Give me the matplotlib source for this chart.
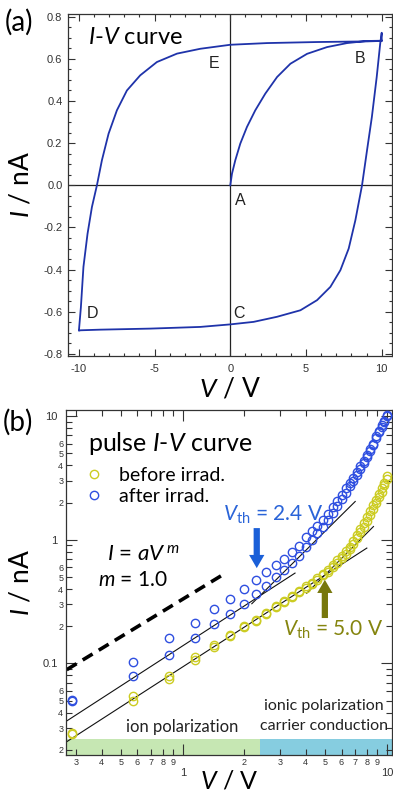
import matplotlib
matplotlib.use('Agg')
import matplotlib.pyplot as plt
from matplotlib.ticker import FixedLocator, FixedFormatter
from matplotlib.lines import Line2D

plt.rcParams['mathtext.fontset'] = 'custom'
plt.rcParams['mathtext.rm'] = 'Lato'
plt.rcParams['mathtext.it'] = 'Lato:italic'
plt.rcParams['font.family'] = ['Lato', 'DejaVu Sans']

# ---- (a) I-V loop ----
v_rise = [0.0, 0.11, 0.33, 0.66, 1.1, 1.65, 2.31, 3.09, 3.97, 5.07, 6.39, 7.71, 9.03, 9.9]
i_rise = [0.0, 0.055, 0.119, 0.198, 0.277, 0.356, 0.435, 0.514, 0.577, 0.624, 0.656, 0.675, 0.685, 0.686]
v_down = [10.0, 10.0, 9.9, 9.67, 9.35, 9.03, 8.7, 8.26, 7.82, 7.27, 6.61, 5.73, 4.63, 3.08, 1.54,
          0.0, -1.98, -5.29, -8.59, -9.9, -10.0]
i_down = [0.686, 0.724, 0.672, 0.514, 0.324, 0.166, 0.0, -0.166, -0.3, -0.403, -0.482, -0.545,
          -0.593, -0.624, -0.648, -0.66, -0.672, -0.68, -0.685, -0.688, -0.69]
v_up = [-10.0, -9.87, -9.7, -9.43, -9.14, -8.81, -8.48, -8.04, -7.49, -6.83, -5.95, -4.85, -3.52,
        -1.98, 0.0, 2.42, 5.73, 9.03, 9.9, 10.0]
i_up = [-0.69, -0.58, -0.387, -0.23, -0.103, 0.0, 0.119, 0.245, 0.356, 0.45, 0.522, 0.585, 0.625,
        0.648, 0.667, 0.675, 0.68, 0.683, 0.685, 0.686]

# ---- (b) pulse I-V, log-log ----
volts = [0.286, 0.571, 0.857, 1.143, 1.429, 1.714, 2.0, 2.286, 2.571, 2.857, 3.143, 3.429,
         3.714, 4.0, 4.286, 4.571, 4.857, 5.143, 5.429, 5.714, 6.0, 6.286, 6.571, 6.857,
         7.143, 7.429, 7.714, 8.0, 8.286, 8.571, 8.857, 9.143, 9.429, 9.714, 10.0]
after_hi = [0.051, 0.103, 0.160, 0.212, 0.275, 0.331, 0.399, 0.475, 0.544, 0.62, 0.698, 0.79,
            0.894, 1.05, 1.17, 1.30, 1.44, 1.62, 1.83, 2.05, 2.30, 2.60, 2.88, 3.18, 3.55,
            3.95, 4.35, 4.85, 5.4, 6.0, 6.9, 7.6, 8.4, 9.2, 10.2]
after_lo = [0.050, 0.0785, 0.1175, 0.162, 0.208, 0.250, 0.302, 0.364, 0.425, 0.496, 0.565,
            0.647, 0.743, 0.88, 1.0, 1.13, 1.28, 1.45, 1.65, 1.88, 2.12, 2.4, 2.7, 3.0, 3.35,
            3.75, 4.2, 4.7, 5.25, 5.85, 6.6, 7.4, 8.2, 9.0, 10.0]
before_hi = [0.0273, 0.0548, 0.0785, 0.112, 0.1416, 0.171, 0.2016, 0.2255, 0.255, 0.289, 0.317,
             0.352, 0.382, 0.42, 0.45, 0.49, 0.53, 0.57, 0.62, 0.68, 0.74, 0.81, 0.88, 0.98,
             1.1, 1.22, 1.36, 1.52, 1.7, 1.9, 2.1, 2.35, 2.6, 2.9, 3.25]
before_lo = [0.027, 0.0493, 0.0754, 0.107, 0.137, 0.167, 0.198, 0.222, 0.252, 0.285, 0.313,
             0.347, 0.376, 0.41, 0.44, 0.475, 0.515, 0.55, 0.60, 0.65, 0.71, 0.77, 0.84, 0.93,
             1.03, 1.15, 1.28, 1.42, 1.58, 1.77, 1.97, 2.2, 2.45, 2.75, 3.1]

# fit lines (end points)
fit_lines = [
    ([0.268, 3.55], [0.034, 0.538]),
    ([2.18, 7.0], [0.304, 2.04]),
    ([0.268, 7.98], [0.0231, 0.857]),
    ([4.05, 8.6], [0.37, 1.28]),
]
dash_v = [0.27, 1.64]
dash_i = [0.089, 0.544]
v_th = [2.4, 5.0]
band_top = 0.0244

blue = '#2f4fe0'
yellow = '#cccc22'
loop_col = '#1f33aa'
tick_font = 'Liberation Sans'
axcol = '#333333'

fig = plt.figure(figsize=(3.93, 7.93), dpi=100)

# ================= (a) =================
ax1 = fig.add_axes([68/393, 1-356/793, 324/393, 342/793])
ax1.axhline(0, color='#222222', lw=0.9, zorder=1)
ax1.axvline(0, color='#222222', lw=0.9, zorder=1)
ax1.plot(v_rise + v_down + v_up, i_rise + i_down + i_up, color=loop_col, lw=1.3, zorder=3)
ax1.set_xlim(-10.72, 10.68)
ax1.set_ylim(-0.81, 0.813)
ax1.set_xticks([-10, -5, 0, 5, 10])
ax1.set_xticks(range(-10, 11), minor=True)
ax1.set_yticks([-0.8, -0.6, -0.4, -0.2, 0.0, 0.2, 0.4, 0.6, 0.8])
ax1.set_yticks([k * 0.05 for k in range(-16, 17)], minor=True)
ax1.set_xticklabels(['-10', '-5', '0', '5', '10'])
ax1.set_yticklabels(['-0.8', '-0.6', '-0.4', '-0.2', '0.0', '0.2', '0.4', '0.6', '0.8'])
ax1.tick_params(which='both', direction='in', top=True, right=True, color=axcol,
                labelcolor=axcol, labelsize=8, width=0.8)
ax1.tick_params(which='major', length=5)
ax1.tick_params(which='minor', length=2.5)
ax1.tick_params(axis='y', pad=4)
ax1.tick_params(axis='x', pad=6)
for lab in ax1.get_xticklabels() + ax1.get_yticklabels():
    lab.set_fontfamily(tick_font)
for s in ax1.spines.values():
    s.set_color(axcol)
    s.set_linewidth(0.9)
ax1.set_xlabel(r'$V$ / V', fontsize=19)
ax1.set_ylabel(r'$I$ / nA', fontsize=19)
ax1.xaxis.set_label_coords(0.5, -0.06)
ax1.yaxis.set_label_coords(-0.108, 0.5)
ax1.text(0.062, 0.93, r'$I$-$V$ curve', transform=ax1.transAxes, fontsize=17, va='center')
for lbl, x, y in [('A', 0.66, -0.07), ('B', 8.6, 0.60), ('C', 0.55, -0.61),
                  ('D', -9.1, -0.61), ('E', -1.1, 0.58)]:
    ax1.text(x, y, lbl, fontsize=11.5, family=tick_font, color='#222222',
             ha='center', va='center')

# ================= (b) =================
ax2 = fig.add_axes([66/393, 1-755/793, 326/393, 345/793])
ax2.set_xscale('log')
ax2.set_yscale('log')
xlo, xhi = 0.268, 10.6
ylo, yhi = 0.0182, 11.2
ax2.set_xlim(xlo, xhi)
ax2.set_ylim(ylo, yhi)

ax2.fill_between([xlo, v_th[0]], ylo, band_top, color='#c6e7b3', lw=0, zorder=0)
ax2.fill_between([v_th[0], xhi], ylo, band_top, color='#86cde0', lw=0, zorder=0)

for xs, ys in fit_lines:
    ax2.plot(xs, ys, color='#111111', lw=0.8, zorder=2)
ax2.plot(dash_v, dash_i, color='black', lw=2.6, linestyle=(0, (3.2, 2.0)),
         dash_capstyle='butt', zorder=2)

mk = dict(marker='o', ls='none', mfc='none', ms=6, mew=1.0, zorder=3)
ax2.plot(volts, before_hi, color=yellow, **mk)
ax2.plot(volts, before_lo, color=yellow, **mk)
ax2.plot(volts, after_hi, color=blue, **mk)
ax2.plot(volts, after_lo, color=blue, **mk)

handles = [Line2D([], [], color=yellow, **mk), Line2D([], [], color=blue, **mk)]
leg = ax2.legend(handles, ['before irrad.', 'after irrad.'], loc='upper left',
                 bbox_to_anchor=(0.055, 0.835), frameon=False, fontsize=14,
                 handlelength=1.0, handletextpad=0.8, labelspacing=0.2,
                 borderaxespad=0, borderpad=0)

# arrows
ax2.annotate('', xy=(2.305, 0.59), xytext=(2.305, 1.243),
             arrowprops=dict(arrowstyle='simple,head_width=1.1,head_length=0.95,tail_width=0.45',
                             color='#1a5fd8', lw=0, shrinkA=0, shrinkB=0, mutation_scale=10))
ax2.annotate('', xy=(4.97, 0.475), xytext=(4.97, 0.233),
             arrowprops=dict(arrowstyle='simple,head_width=1.1,head_length=0.95,tail_width=0.45',
                             color='#77770c', lw=0, shrinkA=0, shrinkB=0, mutation_scale=10))

ax2.text(0.067, 0.904, r'pulse $I$-$V$ curve', transform=ax2.transAxes, fontsize=18, va='center')
ax2.text(0.482, 0.696, r'$V_{\rm th}$ = 2.4 V', transform=ax2.transAxes, fontsize=15,
         va='center', color='#2a64d8')
ax2.text(0.666, 0.362, r'$V_{\rm th}$ = 5.0 V', transform=ax2.transAxes, fontsize=15,
         va='center', color='#85850f')
ax2.text(0.125, 0.582, r'$I$ = $aV^{\,m}$', transform=ax2.transAxes, fontsize=16, va='center')
ax2.text(0.097, 0.507, r'$m$ = 1.0', transform=ax2.transAxes, fontsize=15, va='center')
ax2.text(0.356, 0.081, 'ion polarization', transform=ax2.transAxes, fontsize=12,
         ha='center', va='center', color='#222222')
ax2.text(0.79, 0.142, 'ionic polarization', transform=ax2.transAxes, fontsize=11.5,
         ha='center', va='center', color='#222222')
ax2.text(0.79, 0.084, 'carrier conduction', transform=ax2.transAxes, fontsize=11.5,
         ha='center', va='center', color='#222222')

# ticks
xmaj = [1, 10]
xmin = [0.3, 0.4, 0.5, 0.6, 0.7, 0.8, 0.9, 2, 3, 4, 5, 6, 7, 8, 9]
xmin_lab = ['3', '4', '5', '6', '7', '8', '9', '2', '3', '4', '5', '6', '7', '8', '9']
ymaj = [0.1, 1, 10]
ymin = [0.02, 0.03, 0.04, 0.05, 0.06, 0.07, 0.08, 0.09,
        0.2, 0.3, 0.4, 0.5, 0.6, 0.7, 0.8, 0.9,
        2, 3, 4, 5, 6, 7, 8, 9]
ymin_lab = ['2', '3', '4', '5', '6', '', '', ''] * 3
ax2.xaxis.set_major_locator(FixedLocator(xmaj))
ax2.xaxis.set_major_formatter(FixedFormatter(['1', '10']))
ax2.xaxis.set_minor_locator(FixedLocator(xmin))
ax2.xaxis.set_minor_formatter(FixedFormatter(xmin_lab))
ax2.yaxis.set_major_locator(FixedLocator(ymaj))
ax2.yaxis.set_major_formatter(FixedFormatter(['0.1', '1', '10']))
ax2.yaxis.set_minor_locator(FixedLocator(ymin))
ax2.yaxis.set_minor_formatter(FixedFormatter(ymin_lab))
ax2.tick_params(which='both', direction='in', top=True, right=True, color=axcol,
                labelcolor=axcol, width=0.8)
ax2.tick_params(which='major', length=8, labelsize=8)
ax2.tick_params(which='minor', length=4, labelsize=6.5)
ax2.tick_params(axis='x', which='major', pad=9)
ax2.tick_params(axis='x', which='minor', pad=2)
ax2.tick_params(axis='y', which='major', pad=6)
ax2.tick_params(axis='y', which='minor', pad=2)
for lab in (ax2.get_xticklabels() + ax2.get_yticklabels() +
            ax2.get_xticklabels(minor=True) + ax2.get_yticklabels(minor=True)):
    lab.set_fontfamily(tick_font)
for s in ax2.spines.values():
    s.set_color(axcol)
    s.set_linewidth(0.9)
ax2.set_xlabel(r'$V$ / V', fontsize=18)
ax2.set_ylabel(r'$I$ / nA', fontsize=19)
ax2.xaxis.set_label_coords(0.5, -0.042)
ax2.yaxis.set_label_coords(-0.101, 0.5)

fig.text(0.012, 0.972, '(a)', fontsize=20, va='center')
fig.text(0.008, 0.468, '(b)', fontsize=20, va='center')

fig.savefig('out.png', dpi=100)
